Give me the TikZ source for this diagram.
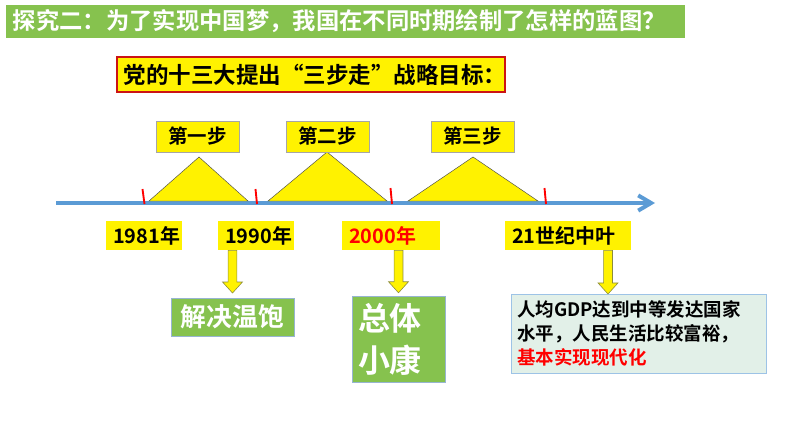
\documentclass[tikz,border=0pt]{standalone}
\usepackage{fontspec}
\setmainfont{Noto Sans CJK SC}[BoldFont={Noto Sans CJK SC Bold}]
\usepackage{xcolor}
\usepackage{tikz}
\usetikzlibrary{arrows.meta,calc}

\definecolor{titlegreen}{RGB}{134,194,78}
\definecolor{goalred}{RGB}{204,20,20}
\definecolor{lineblue}{RGB}{91,155,213}
\definecolor{notefill}{RGB}{226,240,232}
\definecolor{noteedge}{RGB}{157,195,230}
\definecolor{arrowedge}{RGB}{140,140,60}

\begin{document}
\begin{tikzpicture}[
  x=0.03cm, y=-0.03cm,
  titlebar/.style={fill=titlegreen, text=white, align=left, text width=19.95cm,
                   inner xsep=0.21cm, inner ysep=0pt, minimum height=0.99cm,
                   font=\bfseries\fontsize{19.9}{23}\selectfont},
  goal/.style={draw=goalred, line width=1.6pt, fill=yellow, align=left,
               text width=11.22cm, inner xsep=0.21cm, inner ysep=0pt,
               minimum height=1.05cm, font=\bfseries\fontsize{19.2}{23}\selectfont},
  stepbox/.style={draw=gray!70, line width=0.5pt, fill=yellow, inner sep=0pt,
                  minimum width=2.49cm, minimum height=0.93cm,
                  font=\bfseries\fontsize{16.6}{20}\selectfont},
  yearbox/.style={fill=yellow, align=left, inner xsep=0.21cm, inner ysep=0pt,
                  minimum height=0.88cm, font=\bfseries\fontsize{17}{20}\selectfont},
  result/.style={draw=noteedge!80!gray, line width=0.5pt, fill=titlegreen, text=white,
                 inner sep=0pt},
  note/.style={draw=noteedge, line width=0.6pt, fill=notefill, align=left,
               text width=7.29cm, inner xsep=0.18cm, inner ysep=0pt,
               minimum height=2.37cm, font=\bfseries\fontsize{15.8}{20.5}\selectfont},
  tri/.style={fill=yellow, draw=black!70, line width=0.4pt},
  tick/.style={draw=red, line width=1.6pt},
  axis/.style={draw=lineblue, line width=3.4pt, -{Straight Barb[length=11pt,width=13pt]}},
  downarrow/.style={draw=arrowedge, fill=yellow, line width=0.5pt,
    to path={let \p1=(\tikztostart), \p2=(\tikztotarget) in
      (\x1-3.8pt,\y1) -- (\x1+3.8pt,\y1) -- (\x1+3.8pt,\y2+9.4pt)
      -- (\x1+8.5pt,\y2+9.4pt) -- (\x1,\y2) -- (\x1-8.5pt,\y2+9.4pt)
      -- (\x1-3.8pt,\y2+9.4pt) -- cycle}}
]
\useasboundingbox (0,0) rectangle (794,447);

\node[titlebar] (title) at (345.5,21.5) {探究二：为了实现中国梦，我国在不同时期绘制了怎样的蓝图？};
\node[goal] (goal) at (311,74.5) {党的十三大提出“三步走”战略目标：};

% timeline
\coordinate (axisstart) at (56,203);
\coordinate (axisend) at (655,203);
\draw[axis] (axisstart) -- (axisend);

\filldraw[tri] (149,201) -- (248,201) -- (199,157) -- cycle;
\filldraw[tri] (268,201) -- (387,201) -- (327,152) -- cycle;
\filldraw[tri] (408,201) -- (538,201) -- (473,157) -- cycle;

\draw[tick] (142.5,189) -- (144.5,204);
\draw[tick] (255.5,189) -- (257,204);
\draw[tick] (390.5,188) -- (392,204);
\draw[tick] (544.5,188) -- (546,204);

\node[stepbox] (step1) at (197.5,136.5) {第一步};
\node[stepbox] (step2) at (327.5,136.5) {第二步};
\node[stepbox] (step3) at (472.5,136.5) {第三步};

\node[yearbox, text width=1.86cm] (nian1981) at (144,235.5) {1981年};
\node[yearbox, text width=1.86cm] (nian1990) at (256,235.5) {1990年};
\node[yearbox, text width=2.52cm, text=red] (nian2000) at (391,235.5) {2000年};
\node[yearbox, text width=3.36cm] (nian21) at (568,235.5) {21世纪中叶};

% results
\node[result, minimum width=3.69cm, minimum height=1.14cm,
      font=\bfseries\fontsize{22}{26}\selectfont] (wenbao) at (232.5,317) {解决温饱};
\node[result, align=left, text width=2.43cm, inner xsep=0.18cm, minimum height=2.58cm,
      font=\bfseries\fontsize{27.3}{35.9}\selectfont] (xiaokang) at (398.5,339) {总体\\小康};
\node[note] (goal3) at (638.5,333.5) {人均GDP达到中等发达国家\\水平，人民生活比较富裕，\\\textcolor{red}{基本实现现代化}};
\coordinate (tip3) at (608,294);

\draw[downarrow] (nian1990.south -| wenbao.north) to ([yshift=4pt]wenbao.north);
\draw[downarrow] (nian2000.south -| xiaokang.north) to ([yshift=2.5pt]xiaokang.north);
\draw[downarrow] (nian21.south -| tip3) to (tip3);
\end{tikzpicture}
\end{document}
